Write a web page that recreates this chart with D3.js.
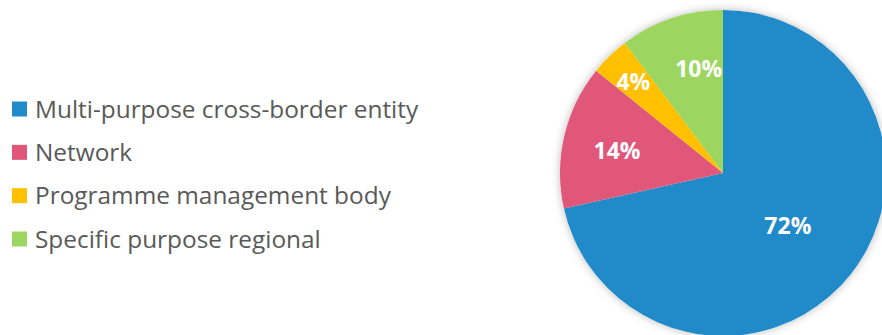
<!DOCTYPE html>
<html>
<head>
<script src="https://d3js.org/d3.v7.min.js"></script>
<style>
  body { margin: 0; background: #fff; }
  svg text { font-family: "Open Sans", "Noto Sans", sans-serif; }
  .legend text { fill: #595959; font-size: 24.4px; }
  .slice-label { fill: #fff; font-size: 23px; font-weight: 700; }
</style>
</head>
<body>
<svg id="chart" width="882" height="335"></svg>
<script>
// data
const categories = ["Multi-purpose cross-border entity", "Network", "Programme management body", "Specific purpose regional"];
const shares = [71.5, 14.3, 3.9, 10.3];
const colours = ["#218AC8", "#E1577A", "#FFC000", "#9CD661"];

// label placement: fraction of radius and small angle nudge (degrees)
const labelRadius = [0.51, 0.665, 0.79, 0.66];
const labelNudge = [0, -1, 0, 5.5];

const svg = d3.select("#chart");
const cx = 723, cy = 173, radius = 163;

const defs = svg.append("defs");
const shadow = defs.append("filter").attr("id", "shadow")
    .attr("x", "-20%").attr("y", "-20%").attr("width", "140%").attr("height", "140%");
shadow.append("feDropShadow")
    .attr("dx", 0).attr("dy", 0)
    .attr("stdDeviation", 4)
    .attr("flood-color", "#000")
    .attr("flood-opacity", 0.28);

const data = categories.map((c, i) => ({ name: c, value: shares[i], i: i }));

const pie = d3.pie().sort(null).value(d => d.value);
const arc = d3.arc().innerRadius(0).outerRadius(radius);
const arcs = pie(data);

const g = svg.append("g").attr("transform", "translate(" + cx + "," + cy + ")");

g.append("circle").attr("r", radius).attr("fill", "#fff").attr("filter", "url(#shadow)");

g.selectAll("path.slice")
    .data(arcs)
    .enter().append("path")
    .attr("class", "slice")
    .attr("d", arc)
    .attr("fill", d => colours[d.data.i]);

function labelAngle(d) {
    return (d.startAngle + d.endAngle) / 2 + labelNudge[d.data.i] * Math.PI / 180;
}

g.selectAll("text.slice-label")
    .data(arcs)
    .enter().append("text")
    .attr("class", "slice-label")
    .attr("text-anchor", "middle")
    .attr("dominant-baseline", "central")
    .attr("x", d => Math.sin(labelAngle(d)) * radius * labelRadius[d.data.i])
    .attr("y", d => -Math.cos(labelAngle(d)) * radius * labelRadius[d.data.i])
    .text(d => Math.round(d.data.value) + "%");

// legend
const rowScale = d3.scalePoint().domain(categories).range([109, 239]);

const legend = svg.append("g").attr("class", "legend");
const rows = legend.selectAll("g")
    .data(data)
    .enter().append("g")
    .attr("transform", d => "translate(12," + rowScale(d.name) + ")");

rows.append("rect")
    .attr("x", 0).attr("y", -7.5)
    .attr("width", 15).attr("height", 15)
    .attr("fill", d => colours[d.i]);

rows.append("text")
    .attr("x", 23)
    .attr("dy", "0.35em")
    .text(d => d.name);
</script>
</body>
</html>
